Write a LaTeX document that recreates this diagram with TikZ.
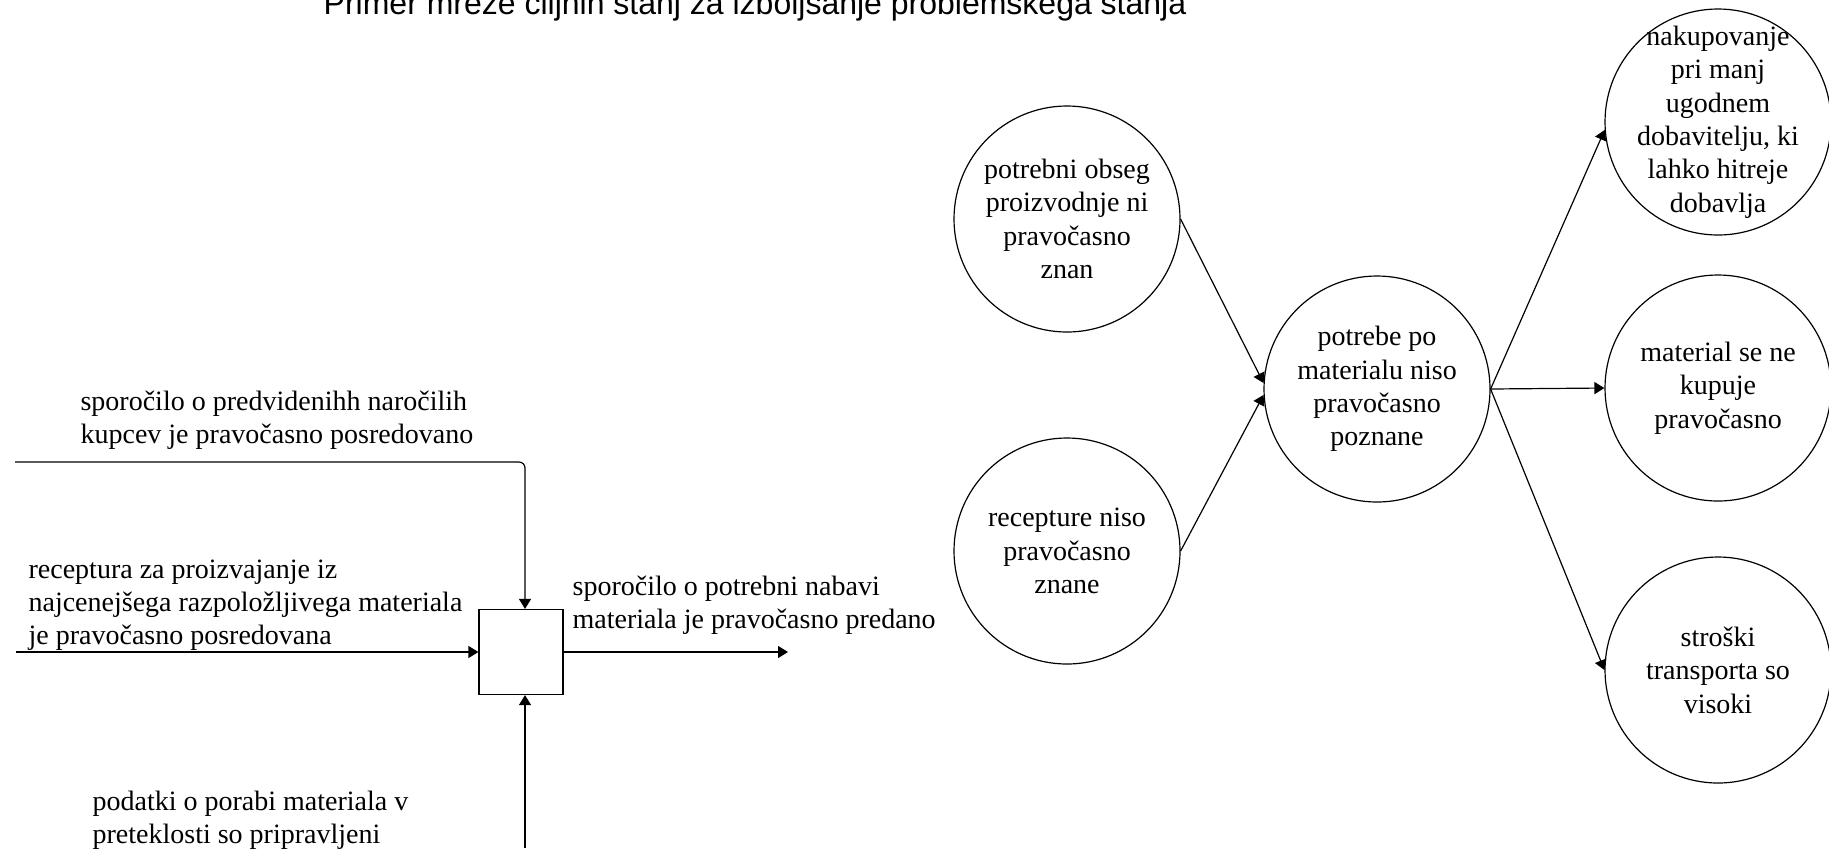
\documentclass[tikz,border=0pt]{standalone}
\usepackage{fontspec}
\setmainfont{Liberation Serif}
\newfontfamily\titlefont{Liberation Sans}
\usetikzlibrary{arrows.meta,positioning}

\begin{document}
\begin{tikzpicture}[->,>={Triangle[length=5pt,width=6pt]},x=0.5pt,y=-0.5pt,line width=0.6pt,
  cilj/.style={circle,draw,minimum size=113pt,inner sep=0pt,align=center,font=\fontsize{14}{16.7}\selectfont},
  oznaka/.style={anchor=base west,align=left,inner sep=0pt,font=\fontsize{14}{16.3}\selectfont}]

  \useasboundingbox (0,0) rectangle (1829,848);

  \node[anchor=base,inner sep=0pt,font=\titlefont\fontsize{16}{19}\selectfont] (naslov) at (755,14)
    {Primer mreže ciljnih stanj za izboljšanje problemskega stanja};

  % activity box with its four arrows
  \node[draw,minimum width=42pt,minimum height=42.5pt,inner sep=0pt] (akt) at (521,652) {};

  \coordinate (vodenje) at (15,462);
  \coordinate (vhod) at (16,652);
  \coordinate (izhod) at (788,652);
  \coordinate (mehanizem) at (525,848);

  \draw[rounded corners=3pt] (vodenje) -| ([xshift=2pt]akt.north);
  \draw (vhod) -- (akt.west);
  \draw (akt.east) -- (izhod);
  \draw (mehanizem) -- (mehanizem |- akt.south);

  % base of a label = baseline of its last line
  \node[oznaka] (lvodenje) at (80,443) {sporočilo o predvidenihh naročilih\\kupcev je pravočasno posredovano};
  \node[oznaka] (lvhod) at (28,644) {receptura za proizvajanje iz\\najcenejšega razpoložljivega materiala\\je pravočasno posredovana};
  \node[oznaka] (lizhod) at (572,628) {sporočilo o potrebni nabavi\\materiala je pravočasno predano};
  \node[oznaka] (lmehanizem) at (92,843) {podatki o porabi materiala v\\preteklosti so pripravljeni};

  % network of goal states
  \node[cilj] (c1) at (1067,219) {potrebni obseg\\proizvodnje ni\\pravočasno\\znan};
  \node[cilj] (c2) at (1067,551) {recepture niso\\pravočasno\\znane};
  \node[cilj] (c3) at (1377,389) {potrebe po\\materialu niso\\pravočasno\\poznane};
  \node[cilj,inner sep=-12pt] (c4) at (1718,122) {nakupovanje\\pri manj\\ugodnem\\dobavitelju, ki\\lahko hitreje\\dobavlja};
  \node[cilj] (c5) at (1718,388) {material se ne\\kupuje\\pravočasno};
  \node[cilj] (c6) at (1718,670) {stroški\\transporta so\\visoki};

  \path (c1.east) edge (c3.177)
        (c2.east) edge (c3.183)
        (c3.east) edge (c4.184)
                  edge (c5.west)
                  edge (c6.west);

\end{tikzpicture}
\end{document}
